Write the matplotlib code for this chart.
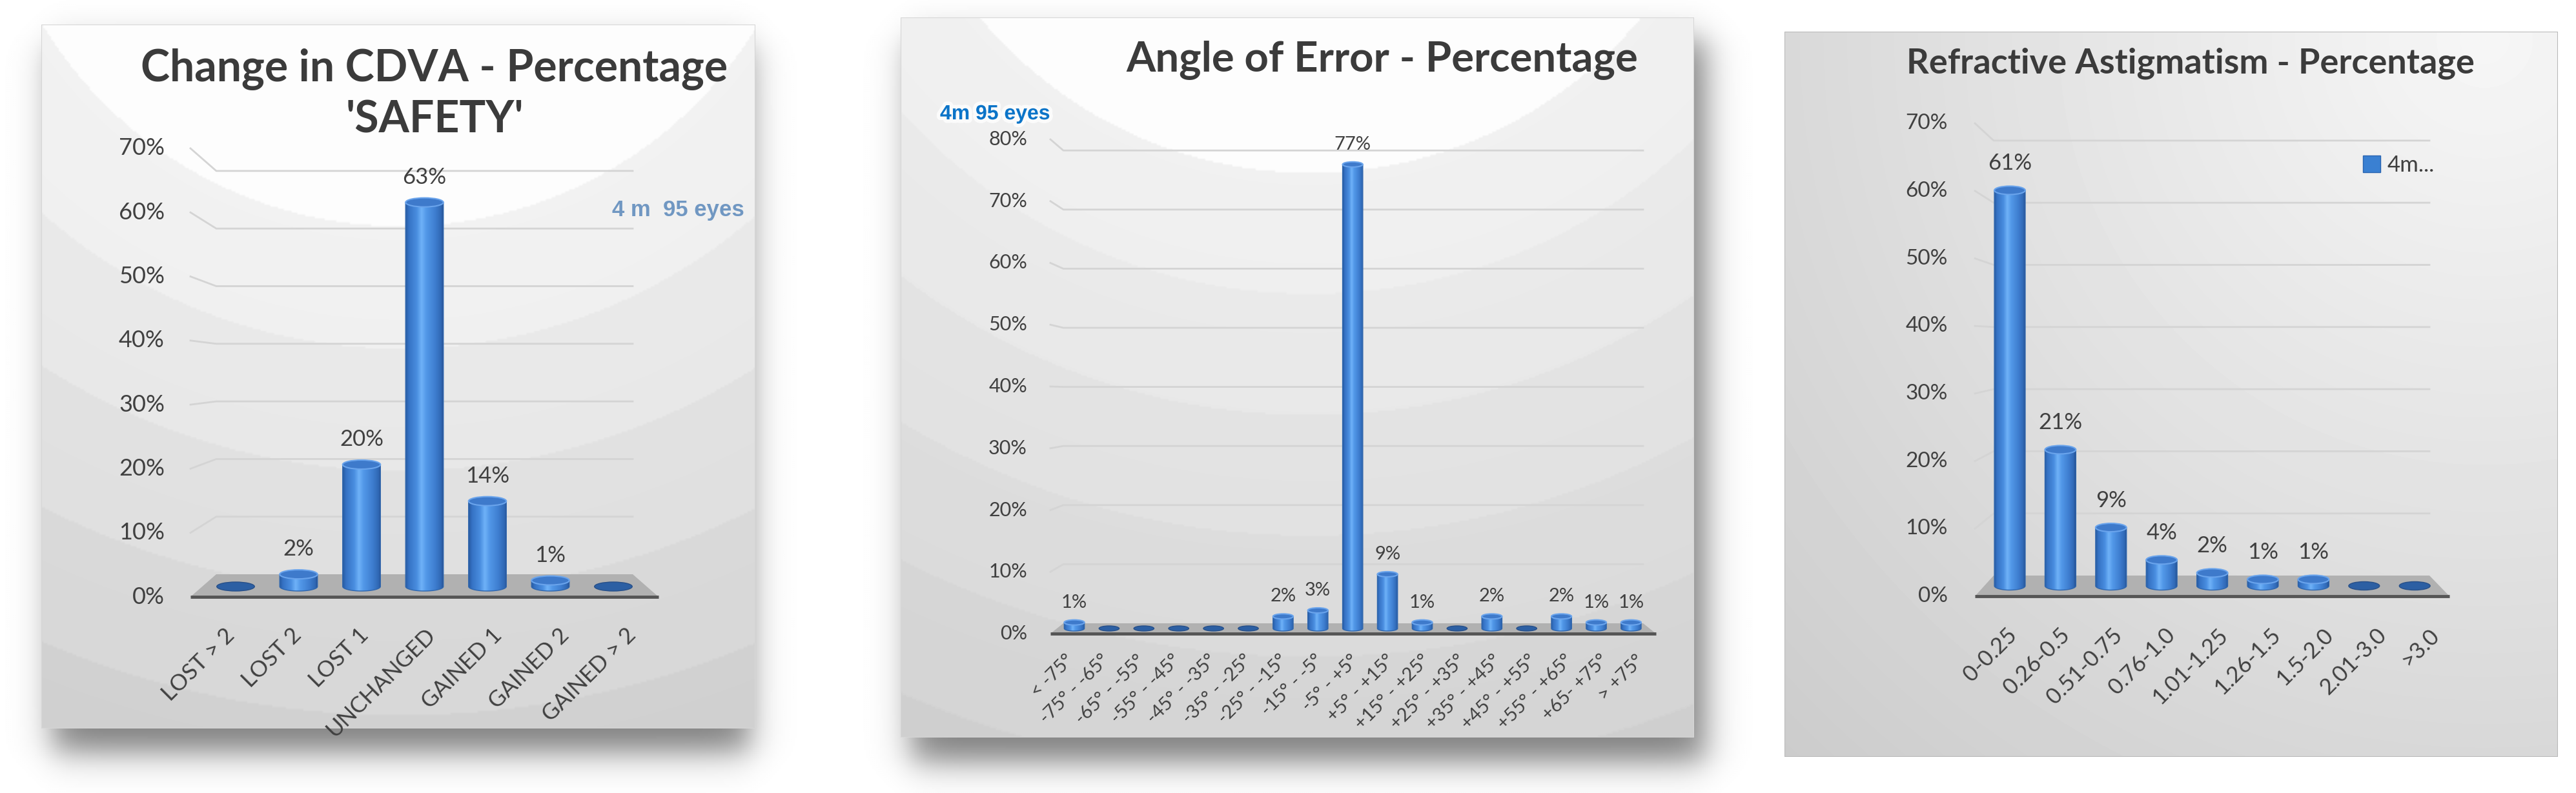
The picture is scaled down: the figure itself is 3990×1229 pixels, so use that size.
import numpy as np
import matplotlib
matplotlib.use("Agg")
import matplotlib.pyplot as plt
import matplotlib.patheffects as pe
from matplotlib.patches import Ellipse, Polygon, Patch, Rectangle
from matplotlib.colors import LinearSegmentedColormap

plt.rcParams['font.family'] = ['Lato', 'DejaVu Sans']

W, H = 3990, 1229

# ---- data ----
cdva_cats = ['LOST > 2', 'LOST 2', 'LOST 1', 'UNCHANGED', 'GAINED 1', 'GAINED 2', 'GAINED > 2']
cdva_vals = [0, 2, 20, 63, 14, 1, 0]
cdva_ticks = [0, 10, 20, 30, 40, 50, 60, 70]

angle_cats = ['< -75°', '-75° - -65°', '-65° - -55°', '-55° - -45°', '-45° - -35°',
              '-35° - -25°', '-25° - -15°', '-15° - -5°', '-5° - +5°', '+5° - +15°',
              '+15° - +25°', '+25° - +35°', '+35° - +45°', '+45° - +55°', '+55° - +65°',
              '+65- +75°', '> +75°']
angle_vals = [1, 0, 0, 0, 0, 0, 2, 3, 77, 9, 1, 0, 2, 0, 2, 1, 1]
angle_ticks = [0, 10, 20, 30, 40, 50, 60, 70, 80]

astig_cats = ['0-0.25', '0.26-0.5', '0.51-0.75', '0.76-1.0', '1.01-1.25',
              '1.26-1.5', '1.5-2.0', '2.01-3.0', '>3.0']
astig_vals = [61, 21, 9, 4, 2, 1, 1, 0, 0]
astig_ticks = [0, 10, 20, 30, 40, 50, 60, 70]

TXT = '#404040'
cyl = LinearSegmentedColormap.from_list('cyl', [
    (0.0, '#285ca3'), (0.08, '#3572c4'), (0.3, '#4a8ee0'), (0.42, '#6fb2f8'),
    (0.55, '#5298e8'), (0.8, '#3d7cce'), (0.95, '#2f67b3'), (1.0, '#264f90')])

fig = plt.figure(figsize=(W / 100, H / 100), dpi=100)
fig.patch.set_facecolor('white')

# drop shadows behind the first two cards
sh = fig.add_axes([0, 0, 1, 1])
X, Y = np.meshgrid(np.arange(0, W, 3), np.arange(0, H, 3))


def soft(a, lo, hi, s):
    return 0.5 * (np.tanh((a - lo) / s) - np.tanh((a - hi) / s))


shade = np.zeros(X.shape)
for (l, t, r, b) in [(80, 70, 1160, 1165), (1410, 60, 2640, 1180)]:
    shade += 0.5 * soft(X, l, r, 30) * soft(Y, t, b, 30)
sh.imshow(1 - np.clip(shade, 0, 0.6), cmap='gray', vmin=0, vmax=1,
          extent=[0, W, H, 0], aspect='auto', interpolation='bilinear')
sh.set_xlim(0, W)
sh.set_ylim(H, 0)
sh.axis('off')


def rings(X, Y, cx, cy, r0, step, top, dk):
    # concentric bands, lightest around the top centre
    r = np.hypot(X - cx, Y - cy)
    k = np.clip(np.floor((r - r0) / step) + 1, 0, None)
    smooth = np.clip((r - r0) / step, 0, None)
    return np.where(r < r0, 0.99, top - dk * k - 0.006 * smooth)


def bg1(X, Y):
    return rings(X, Y, 620, -300, 650, 190, 0.972, 0.026)


def bg2(X, Y):
    return rings(X, Y, 2030, -400, 667, 188, 0.962, 0.02)


def bg3(X, Y):
    d = np.hypot(X - 3850, Y - 60)
    return 0.965 - 0.16 * d / 1500


def chart(box, cats, vals, ticks, g, fs, bgfun, border):
    l, t, r, b = box
    u = lambda px: (np.asarray(px, float) - g['x0']) / g['dx']
    v = lambda py: (g['base'] - np.asarray(py, float)) / g['sy']
    ax = fig.add_axes([l / W, 1 - b / H, (r - l) / W, (b - t) / H])
    ax.axis('off')

    GX, GY = np.meshgrid(np.linspace(l, r, (r - l) // 3), np.linspace(t, b, (b - t) // 3))
    ax.imshow(bgfun(GX, GY), cmap='gray', vmin=0, vmax=1,
              extent=[u(l), u(r), v(b), v(t)], aspect='auto',
              interpolation='bilinear', zorder=0)
    ax.add_patch(Rectangle((u(l), v(b)), u(r) - u(l), v(t) - v(b), facecolor='none',
                           edgecolor=border, lw=1.5, zorder=1))

    f0, fper, fl, fr = g['front']
    b0, bper, bl, br = g['back']
    for tk in ticks:
        yf = f0 - tk * fper
        yb = b0 - tk * bper
        if tk > 0:
            ax.plot(u([fl, bl, br]), v([yf, yb, yb]), color='#d4d4d4', lw=2, zorder=1)
        ax.text(u(g['tick_x']), v(yf), f'{tk}%', ha='right', va='center',
                fontsize=fs['tick'], color=TXT)

    # floor
    ax.add_patch(Polygon(np.column_stack([u([fl, fr, br, bl]), v([f0, f0, b0, b0])]),
                         closed=True, facecolor='#b1b1b1', edgecolor='none', zorder=2))
    ax.plot(u([fl, fr]), v([f0, f0]), color='#555555', lw=3.5, zorder=3,
            solid_capstyle='butt')

    # cylinders
    w = g['wfrac']
    eh = g['eh'] / g['sy']
    grad = np.linspace(0, 1, 64)[None, :]
    ts = np.linspace(0, np.pi, 40)
    for i, val in enumerate(vals):
        if val == 0:
            ax.add_patch(Ellipse((i, 0), w, eh, facecolor='#2c5fa3', edgecolor='#274f88',
                                 lw=1, zorder=4))
            continue
        body = [(i - w / 2, val), (i + w / 2, val)] + \
            list(zip(i + w / 2 * np.cos(ts), -eh / 2 * np.sin(ts)))
        poly = Polygon(body, closed=True, facecolor='none', edgecolor='#2f66ad',
                       lw=1, zorder=5)
        ax.add_patch(poly)
        im = ax.imshow(grad, cmap=cyl, extent=[i - w / 2, i + w / 2, -eh / 2, val],
                       aspect='auto', interpolation='bilinear', zorder=4)
        im.set_clip_path(poly)
        ax.add_patch(Ellipse((i, val), w, eh, facecolor='#3e7acb', edgecolor='#6aa4ec',
                             lw=1.5, zorder=6))
        ax.text(i, val + eh / 2 + g['lab_pad'] / g['sy'], f'{val}%', ha='center',
                va='bottom', fontsize=fs['bar'], color=TXT, zorder=7)

    # category labels along the front edge
    fw = (fr - fl) / len(cats)
    for i, c in enumerate(cats):
        ax.text(u(fl + (i + 0.5) * fw + g['lab_dx']), v(g['lab_y']), c, rotation=45,
                rotation_mode='anchor', ha='right', va='top', fontsize=fs['cat'],
                color=TXT)

    ax.set_xlim(u(l), u(r))
    ax.set_ylim(v(b), v(t))
    return ax, u, v


# ---- panel 1 ----
g1 = dict(x0=365, dx=97.5, base=909, sy=9.45, front=(925, 9.93, 295, 1020),
          back=(890, 8.93, 335, 980), wfrac=0.6, eh=14, tick_x=255, lab_pad=16,
          lab_dx=0, lab_y=968)
ax1, u1, v1 = chart((64, 38, 1170, 1129), cdva_cats, cdva_vals, cdva_ticks, g1,
                    dict(tick=26, bar=25, cat=25), bg1, '#d6d6d6')
ax1.text(u1(673), v1(108), 'Change in CDVA - Percentage', ha='center', va='center',
         fontsize=49, fontweight='bold', color='#3b3b3b')
ax1.text(u1(673), v1(186), "'SAFETY'", ha='center', va='center',
         fontsize=49, fontweight='bold', color='#3b3b3b')
ax1.text(u1(948), v1(326), '4 m  95 eyes', ha='left', va='center', fontsize=25,
         fontweight='bold', color='#7097c2', family=['Liberation Sans', 'DejaVu Sans'])

# ---- panel 2 ----
g2 = dict(x0=1664, dx=53.9, base=974, sy=9.34, front=(982, 9.575, 1627, 2565),
          back=(966, 9.16, 1647, 2545), wfrac=0.58, eh=8, tick_x=1591, lab_pad=14,
          lab_dx=-5, lab_y=1010)
ax2, u2, v2 = chart((1395, 27, 2624, 1143), angle_cats, angle_vals, angle_ticks, g2,
                    dict(tick=22, bar=21, cat=21), bg2, '#d6d6d6')
ax2.text(u2(2141), v2(94), 'Angle of Error - Percentage', ha='center', va='center',
         fontsize=47, fontweight='bold', color='#3b3b3b')
ax2.text(u2(1456), v2(177), '4m 95 eyes', ha='left', va='center', fontsize=23,
         fontweight='bold', color='#0b74c8', family=['Liberation Sans', 'DejaVu Sans'],
         path_effects=[pe.withStroke(linewidth=8, foreground='white', alpha=0.8)])

# ---- panel 3 ----
g3 = dict(x0=3113, dx=78.4, base=908, sy=10.05, front=(924, 10.47, 3059, 3794),
          back=(892, 9.63, 3088, 3763), wfrac=0.61, eh=13, tick_x=3017, lab_pad=19,
          lab_dx=8, lab_y=968)
ax3, u3, v3 = chart((2764, 49, 3962, 1173), astig_cats, astig_vals, astig_ticks, g3,
                    dict(tick=24, bar=25, cat=25), bg3, '#b8b8b8')
ax3.text(u3(3393), v3(98), 'Refractive Astigmatism - Percentage', ha='center',
         va='center', fontsize=39, fontweight='bold', color='#3b3b3b')
ax3.legend(handles=[Patch(facecolor='#3a80d2', edgecolor='#2a64b0')], labels=['4m...'],
           loc='center left', bbox_to_anchor=(u3(3660), v3(256)),
           bbox_transform=ax3.transData, frameon=False, fontsize=25,
           handlelength=0.78, handleheight=0.78, handletextpad=0.3,
           borderpad=0, borderaxespad=0, labelcolor=TXT)

fig.savefig('out.png', dpi=100, facecolor='white')
